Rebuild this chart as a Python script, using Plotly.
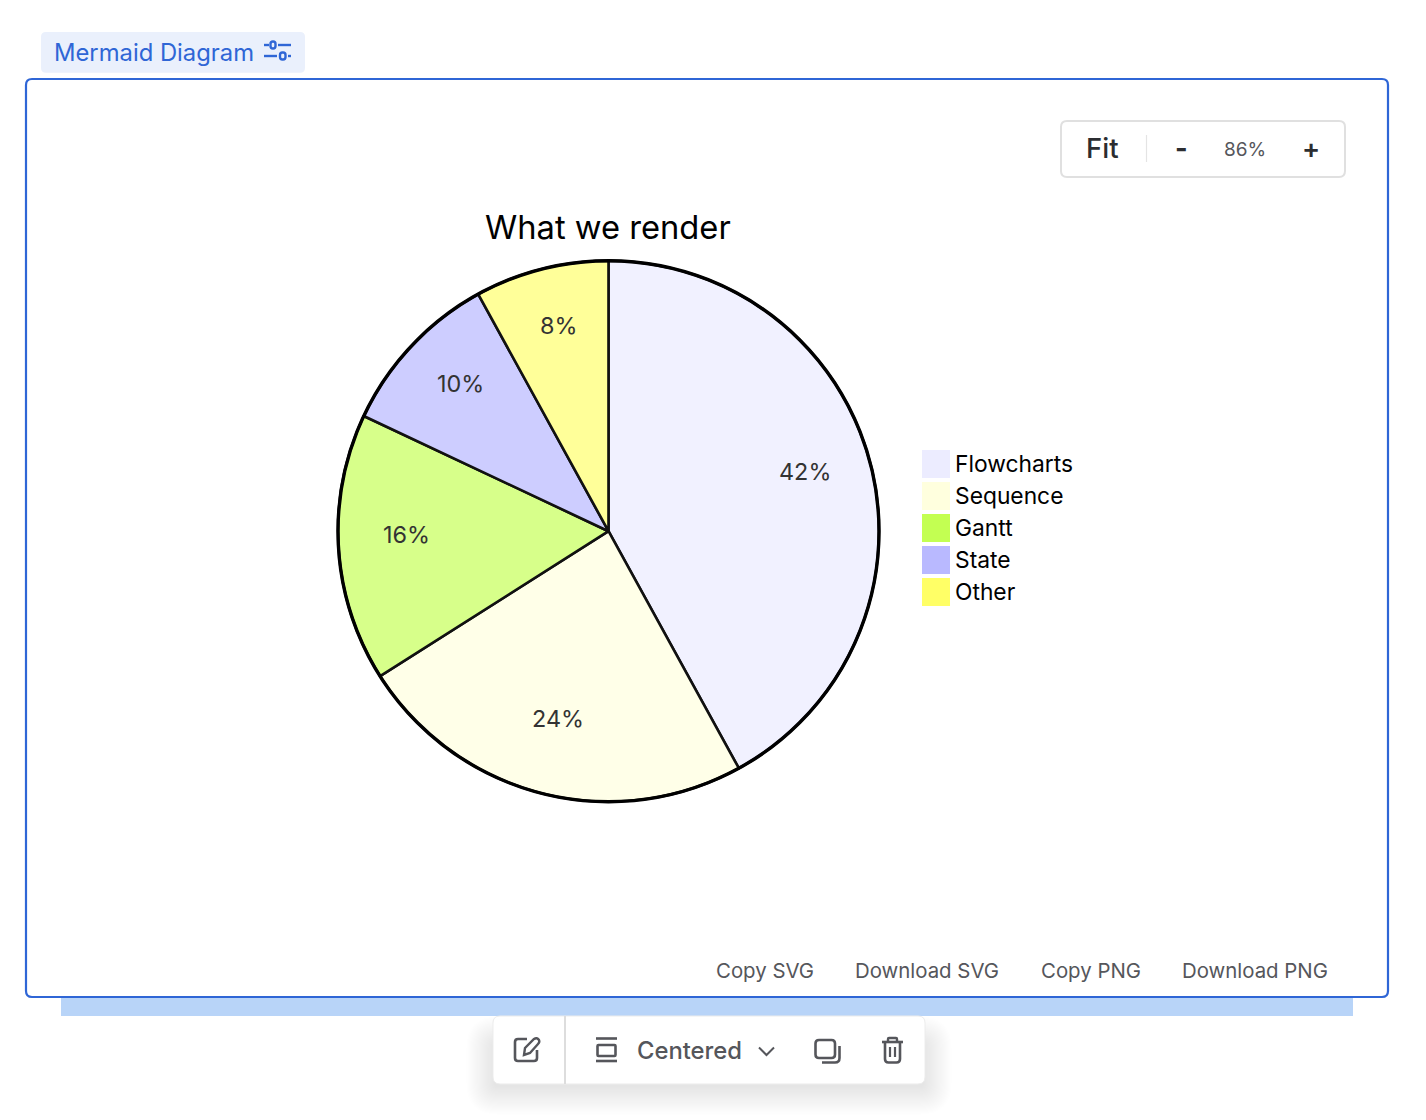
import math
import plotly.graph_objects as go

W, H = 1426, 1120

# Pie data
CHART_TITLE = "What we render"
categories = ["Flowcharts", "Sequence", "Gantt", "State", "Other"]
shares = [42, 24, 16, 10, 8]
slice_colors = ["#F1F1FF", "#FFFFE8", "#D7FF8A", "#CDCDFF", "#FFFF99"]
legend_colors = ["#ECECFF", "#FFFFDE", "#C3FF52", "#B9B9FF", "#FFFF66"]

# Widget labels
BADGE_LABEL = "Mermaid Diagram"
zoom_labels = ["Fit", "-", "86%", "+"]
export_labels = ["Copy SVG", "Download SVG", "Copy PNG", "Download PNG"]
ALIGN_LABEL = "Centered"

FONT = "Inter"
BLUE = "#2F66D6"
GREY = "#55565B"

# Pie placement on the page, in pixels
CX, CY, R = 608.5, 531.2, 270.5


def fx(x):
    return x / W


def fy(y):
    return 1 - y / H


def path(cmds):
    """Build an SVG path in paper coordinates from pixel-based commands."""
    out = []
    for c in cmds:
        if isinstance(c, str):
            out.append(c)
        else:
            out.append(f"{c[0]} " + " ".join(f"{fx(x):.6f},{fy(y):.6f}" for x, y in c[1:]))
    return " ".join(out)


def rrect_cmds(x0, y0, x1, y1, r):
    return [
        ("M", (x0 + r, y0)), ("L", (x1 - r, y0)), ("Q", (x1, y0), (x1, y0 + r)),
        ("L", (x1, y1 - r)), ("Q", (x1, y1), (x1 - r, y1)),
        ("L", (x0 + r, y1)), ("Q", (x0, y1), (x0, y1 - r)),
        ("L", (x0, y0 + r)), ("Q", (x0, y0), (x0 + r, y0)), "Z",
    ]


shapes = []


def add_path(cmds, fill="rgba(0,0,0,0)", line=None, lw=0, layer="below"):
    shapes.append(dict(
        type="path", xref="paper", yref="paper", path=path(cmds), fillcolor=fill,
        line=dict(color=line or "rgba(0,0,0,0)", width=lw), layer=layer,
    ))


def rrect(x0, y0, x1, y1, r, fill="rgba(0,0,0,0)", line=None, lw=0, layer="below"):
    add_path(rrect_cmds(x0, y0, x1, y1, r), fill, line, lw, layer)


def stroke(points, color=GREY, lw=2.5):
    cmds = [("M", points[0])] + [("L", p) for p in points[1:]]
    add_path(cmds, line=color, lw=lw)


annotations = []


def label(x, y, text, size, color="#000000", anchor="center", weight=400, yshift=0):
    # Left-anchored annotations carry about 2px of internal padding
    annotations.append(dict(
        x=fx(x - 2 if anchor == "left" else x), y=fy(y), xref="paper", yref="paper",
        text=text, showarrow=False, xanchor=anchor, yanchor="middle", yshift=yshift,
        font=dict(family=FONT, size=size, color=color, weight=weight),
    ))


# Badge above the frame, with its sliders icon
rrect(41, 32, 305, 72.7, 5, fill="#EAF0FC")
label(54, 52.5, BADGE_LABEL, 23.8, BLUE, anchor="left")
stroke([(264, 45), (269, 45)], BLUE, 2.4)
stroke([(278, 45), (291, 45)], BLUE, 2.4)
rrect(270.5, 41.5, 275.5, 48.5, 2.4, line=BLUE, lw=2.4)
stroke([(264, 56), (277, 56)], BLUE, 2.4)
stroke([(288, 56), (291, 56)], BLUE, 2.4)
rrect(280, 52.5, 285.5, 59.5, 2.4, line=BLUE, lw=2.4)

# Selection band and main frame
shapes.append(dict(type="rect", xref="paper", yref="paper", x0=fx(61), x1=fx(1353),
                   y0=fy(997), y1=fy(1016), fillcolor="#B8D4F8", line=dict(width=0), layer="below"))
rrect(26, 79, 1388, 997, 6, fill="#FFFFFF", line=BLUE, lw=2.2)

# Zoom control
rrect(1061, 121, 1345, 177, 6, fill="#FFFFFF", line="#E0E0E0", lw=2)
stroke([(1146.5, 135), (1146.5, 162)], "#E4E4E4", 1.2)
label(1102, 148.4, zoom_labels[0], 27.5, "#2B2D31", weight=500)
label(1181, 149, zoom_labels[1], 27, "#2B2D31", weight=700)
label(1244.5, 149.5, zoom_labels[2], 19, GREY)
label(1311, 149, zoom_labels[3], 27, "#2B2D31", weight=600)

# Export links
for centre, text in zip([764.5, 926.8, 1090.5, 1255], export_labels):
    label(centre, 970.2, text, 20.4, GREY)

# Floating toolbar: soft shadow first, then the panel
for i in range(26):
    spread = 27 - i * 1.1
    rrect(493 - spread, 1016 + 27 - spread, 925 + spread, 1084 + 4 + spread, spread + 5,
          fill="rgba(0,0,0,0.0042)")
rrect(493, 1016, 925, 1084, 7, fill="#FFFFFF", line="#ECECEC", lw=1)
stroke([(565, 1016), (565, 1084)], "#DDDDDD", 2)

# Edit icon
add_path([("M", (527, 1039)), ("L", (518, 1039)), ("Q", (515, 1039), (515, 1042)),
          ("L", (515, 1058)), ("Q", (515, 1061), (518, 1061)), ("L", (534, 1061)),
          ("Q", (537, 1061), (537, 1058)), ("L", (537, 1050))], line=GREY, lw=2.6)
add_path([("M", (524, 1055)), ("L", (525, 1048)), ("L", (534, 1039)), ("Q", (537, 1037), (539, 1040)),
          ("Q", (540, 1042), (538, 1044)), ("L", (530, 1053)), "Z"], line=GREY, lw=2.4)

# Alignment icon
stroke([(596, 1038.5), (617, 1038.5)], GREY, 2.6)
rrect(597.5, 1045, 615.5, 1056, 1, line=GREY, lw=2.6)
stroke([(596, 1061), (617, 1061)], GREY, 2.6)
label(637, 1050.5, ALIGN_LABEL, 23.8, GREY, anchor="left", weight=500)
stroke([(759, 1047.5), (766.5, 1055), (774, 1047.5)], GREY, 2)

# Duplicate icon
rrect(815.5, 1040, 835, 1058, 3.5, line=GREY, lw=2.6)
add_path([("M", (839.5, 1046)), ("L", (839.5, 1058)), ("Q", (839.5, 1062.5), (835, 1062.5)),
          ("L", (822, 1062.5))], line=GREY, lw=2.6)

# Delete icon
stroke([(882, 1042), (903, 1042)], GREY, 2.6)
add_path([("M", (888, 1041)), ("L", (888, 1039)), ("Q", (888, 1038), (889, 1038)), ("L", (896, 1038)),
          ("Q", (897, 1038), (897, 1039)), ("L", (897, 1041))], line=GREY, lw=2.4)
add_path([("M", (885, 1042)), ("L", (885, 1059)), ("Q", (885, 1062.5), (888.5, 1062.5)), ("L", (896.5, 1062.5)),
          ("Q", (900, 1062.5), (900, 1059)), ("L", (900, 1042))], line=GREY, lw=2.6)
stroke([(890, 1047), (890, 1057)], GREY, 2.2)
stroke([(895, 1047), (895, 1057)], GREY, 2.2)

# Chart title
label(607.5, 226.8, CHART_TITLE, 32.7, "#000000")

# Percentage labels sit at three quarters of the radius, on each slice's mid-angle
total = sum(shares)
running = 0
for value in shares:
    mid = (running + value / 2) / total * 2 * math.pi
    running += value
    label(CX + 0.75 * R * math.sin(mid), CY - 0.75 * R * math.cos(mid),
          f"{round(value / total * 100)}%", 23.4, "#333333", yshift=9)

# Legend
for i, (name, colour) in enumerate(zip(categories, legend_colors)):
    y0 = 450 + i * 32
    shapes.append(dict(type="rect", xref="paper", yref="paper", x0=fx(922), x1=fx(950),
                       y0=fy(y0), y1=fy(y0 + 28), fillcolor=colour, line=dict(width=0), layer="below"))
    label(955, y0 + 13, name, 22.8, "#000000", anchor="left")

# Outer ring of the pie
shapes.append(dict(type="circle", xref="paper", yref="paper", x0=fx(CX - R), x1=fx(CX + R),
                   y0=fy(CY + R), y1=fy(CY - R), line=dict(color="#000000", width=3.4), layer="above"))

pie = go.Pie(
    labels=categories, values=shares, sort=False, direction="clockwise", rotation=0,
    textinfo="none", hoverinfo="skip", showlegend=False,
    marker=dict(colors=slice_colors, line=dict(color="#111111", width=2.6)),
    domain=dict(x=[fx(CX - R), fx(CX + R)], y=[fy(CY + R), fy(CY - R)]),
)

fig = go.Figure(pie)
fig.update_layout(
    width=W, height=H, margin=dict(l=0, r=0, t=0, b=0), paper_bgcolor="#FFFFFF",
    plot_bgcolor="#FFFFFF", showlegend=False, shapes=shapes, annotations=annotations,
    font=dict(family=FONT),
)
fig.write_html("out.html", config=dict(displayModeBar=False))
